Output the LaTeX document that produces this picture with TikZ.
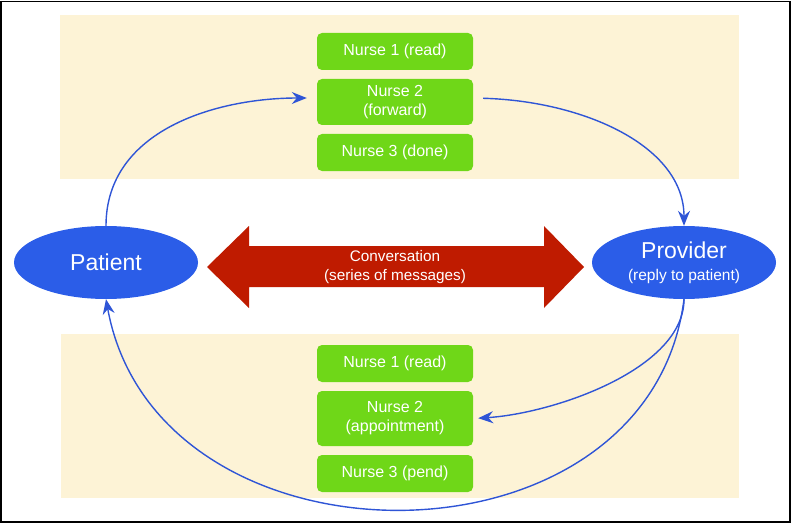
\documentclass[tikz,border=0pt]{standalone}
\usepackage{fontspec}
\setmainfont{Liberation Sans}
\usetikzlibrary{arrows.meta,shapes.geometric}
\definecolor{bandcream}{HTML}{FDF3D6}
\definecolor{nursegreen}{HTML}{6FD718}
\definecolor{ovalblue}{HTML}{2B5DE8}
\definecolor{linkblue}{HTML}{2F55D6}
\definecolor{convred}{HTML}{BF1B00}
\begin{document}
\begin{tikzpicture}
[x=1pt,y=-1pt,
  banddecorate/.style={fill=bandcream},%
  nursedecorate/.style={shape=rectangle,rounded corners=5pt,fill=nursegreen,text=white,
    minimum width=156pt,inner sep=0pt,align=center,font=\fontsize{16}{19}\selectfont},%
  ovaldecorate/.style={shape=ellipse,fill=ovalblue,text=white,inner sep=0pt,
    minimum width=184pt,minimum height=73pt,align=center},%
  linkdecorate/.style={-{Stealth[length=15pt,width=12pt,inset=5pt]},linkblue,line width=1.4pt}]
\useasboundingbox (0,0) rectangle (792,524);
\draw[line width=1.2pt] (1,1.5) rectangle (790,522);
%% background bands
\fill[banddecorate] (60,15) rectangle (739,179);
\fill[banddecorate] (61,334) rectangle (739,498);
%% nurse boxes
\foreach \nodename/\y/\h/\txt in {
  t1/51.5/37/{Nurse 1 (read)}, t2/102/46/{Nurse 2\\(forward)}, t3/152.5/37/{Nurse 3 (done)},
  b1/363.5/37/{Nurse 1 (read)}, b2/418.5/55/{Nurse 2\\(appointment)}, b3/473.5/37/{Nurse 3 (pend)}}
{
  \node (\nodename) at (395,\y) [nursedecorate,minimum height=\h pt] {\txt};
}
%% patient and provider
\node (patient) at (106,262.5) [ovaldecorate,font=\fontsize{23}{26}\selectfont] {Patient};
\node (provider) at (684,262.5) [ovaldecorate,font=\fontsize{15.5}{22}\selectfont]
  {{\fontsize{23}{22}\selectfont Provider}\\(reply to patient)};
%% conversation arrow
\fill[convred] (207,267) -- (249,226) -- (249,246) -- (544,246) -- (544,226) -- (584,267)
  -- (544,308) -- (544,287) -- (249,287) -- (249,308) -- cycle;
\node (conv) at (395,267) [text=white,align=center,font=\fontsize{15.3}{19}\selectfont]
  {Conversation\\(series of messages)};
%% message flow
\draw[linkdecorate,shorten >=10pt] (patient.north) .. controls +(0,-96) and +(-100,0) .. ([yshift=4pt]t2.west);
\draw[linkdecorate,shorten <=10pt] ([yshift=4pt]t2.east) .. controls +(110,3) and +(0,-80) .. (provider.north);
\draw[linkdecorate,shorten >=5pt] (provider.south) .. controls +(0,70) and +(80,-5) .. (b2.east);
\draw[linkdecorate] (provider.south) .. controls +(-35,280) and +(51,280) .. (patient.south);
\end{tikzpicture}
\end{document}
